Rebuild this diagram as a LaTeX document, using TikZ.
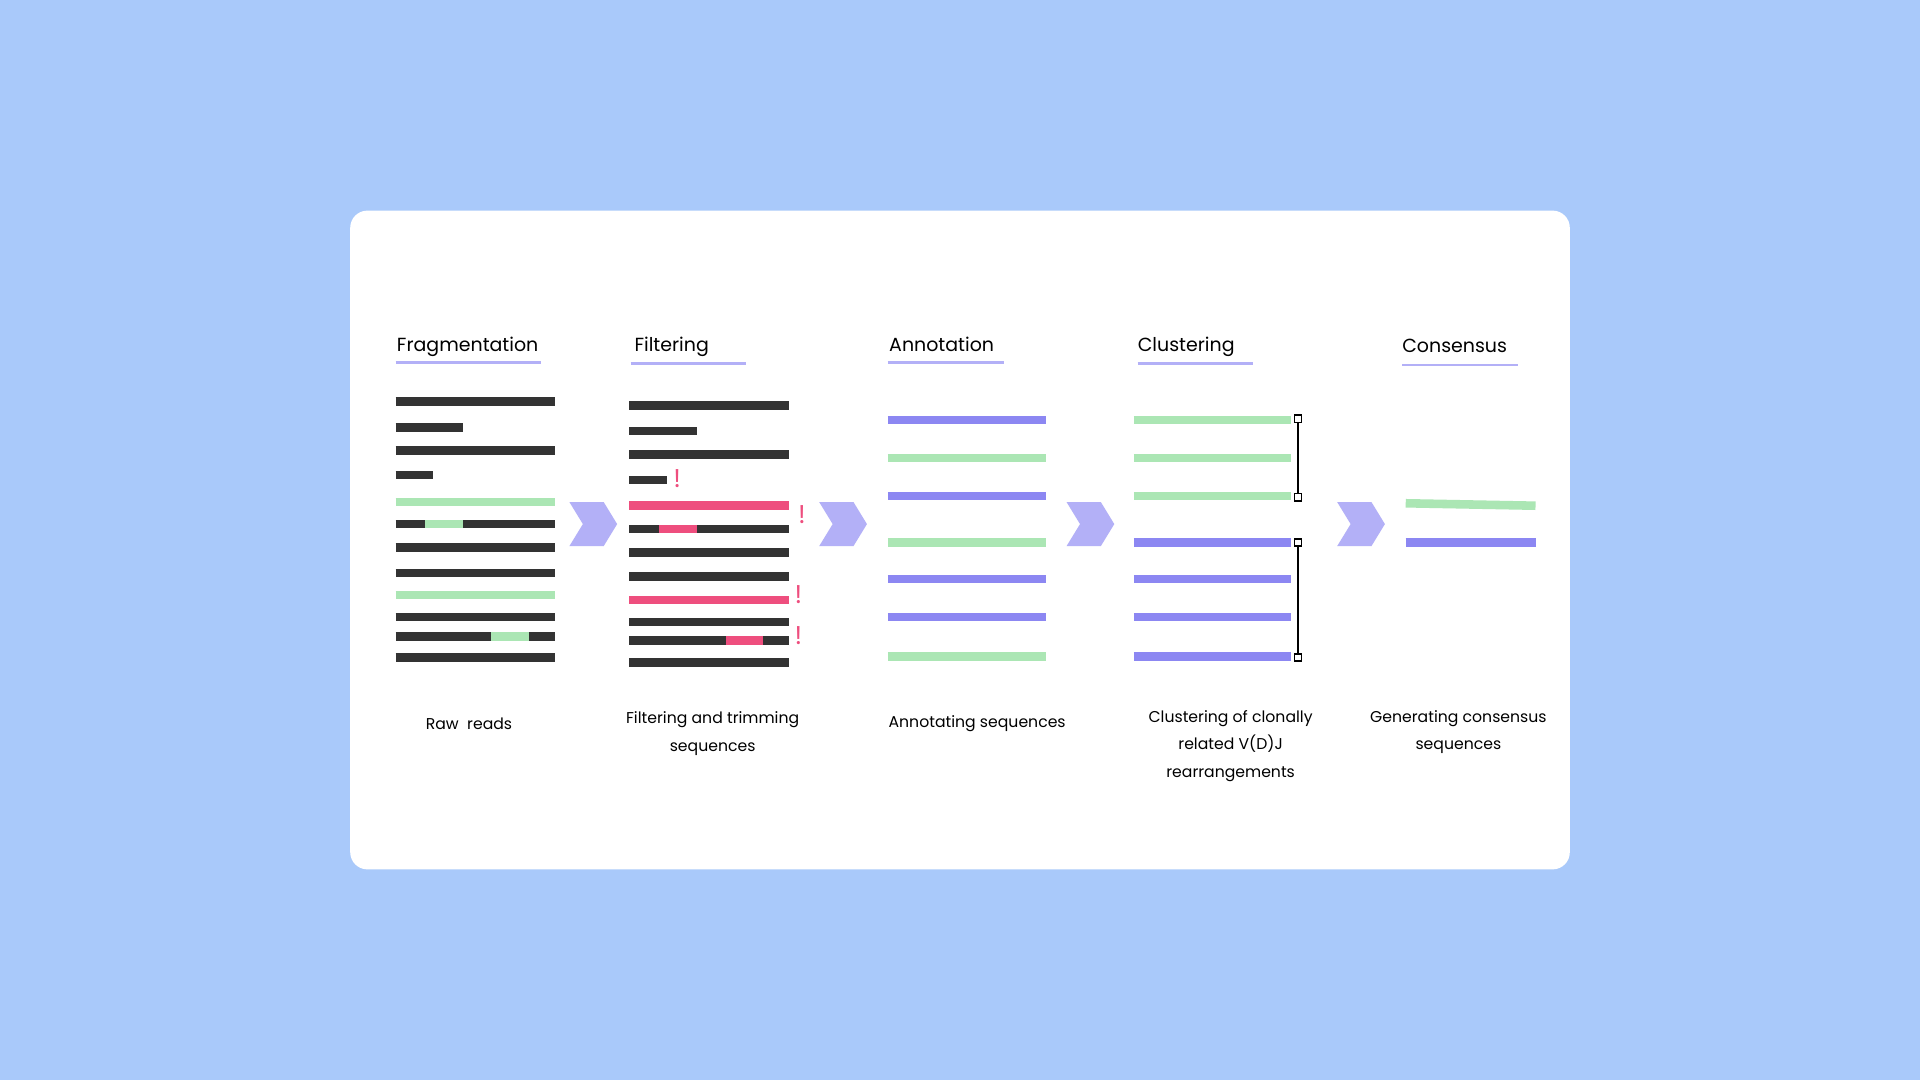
\documentclass[tikz,border=0pt]{standalone}
\usepackage{fontspec}
\setmainfont{Poppins}
\usetikzlibrary{calc}
\definecolor{bgblue}{HTML}{A9C9FA}
\definecolor{readdark}{HTML}{333333}
\definecolor{readgreen}{HTML}{ABE6B4}
\definecolor{readblue}{HTML}{8C87F2}
\definecolor{readpink}{HTML}{EE4E7E}
\definecolor{chev}{HTML}{B3B0F7}
\tikzset{
  bar/.style={line width=7pt},
  title/.style={anchor=base west,font=\fontsize{15.5}{18}\selectfont,inner sep=0pt},
  caption/.style={align=center,font=\fontsize{12.8}{22.5}\selectfont},
  uline/.style={chev,line width=2pt},
  bang/.style={text=readpink,font=\fontsize{21}{21}\selectfont,inner sep=0pt},
}
\newcommand{\chevron}[1]{\fill[chev] (#1-4,410) -- (#1+24,410) -- (#1+35,428) -- (#1+24,446) -- (#1-4,446) -- (#1+7,428) -- cycle;}
\begin{document}
\begin{tikzpicture}[x=1pt,y=-1pt]
  \fill[bgblue] (0,0) rectangle (1568,882);
  \fill[white,rounded corners=14pt] (286,172) rectangle (1282,710);
  % titles
  \node[title] (tfrag) at (324,287) {Fragmentation};
  \draw[uline] (323,296) -- (442,296);
  \node[title] (tfilt) at (518,287) {Filtering};
  \draw[uline] (515,297) -- (609,297);
  \node[title] (tanno) at (726,287) {Annotation};
  \draw[uline] (725,296) -- (820,296);
  \node[title] (tclus) at (929,287) {Clustering};
  \draw[uline] (929,297) -- (1023,297);
  \node[title] (tcons) at (1145,288) {Consensus};
  \draw[uline] (1145,298) -- (1240,298);
  % fragmentation
  \foreach \y/\e/\c in {328/453/readdark,349/378/readdark,368/453/readdark,388/354/readdark,
      410/453/readgreen,428/453/readdark,447/453/readdark,468/453/readdark,486/453/readgreen,
      504/453/readdark,520/453/readdark,537/453/readdark}
    \draw[bar,\c] (323,\y) -- (\e,\y);
  \draw[bar,readgreen] (347,428) -- (378,428);
  \draw[bar,readgreen] (401,520) -- (432,520);
  % filtering
  \foreach \y/\e/\c in {331/644/readdark,352/569/readdark,371/644/readdark,392/545/readdark,
      413/644/readpink,432/644/readdark,451/644/readdark,471/644/readdark,490/644/readpink,
      508/644/readdark,523/644/readdark,541/644/readdark}
    \draw[bar,\c] (514,\y) -- (\e,\y);
  \draw[bar,readpink] (538,432) -- (569,432);
  \draw[bar,readpink] (593,523) -- (623,523);
  \node[bang] (b1) at (553,391) {!};
  \node[bang] (b2) at (655,420) {!};
  \node[bang] (b3) at (652,486) {!};
  \node[bang] (b4) at (652,519) {!};
  % annotation
  \foreach \y/\c in {343/readblue,374/readgreen,405/readblue,443/readgreen,473/readblue,504/readblue,536/readgreen}
    \draw[bar,\c] (725,\y) -- (854,\y);
  % clustering
  \foreach \y/\c in {343/readgreen,374/readgreen,405/readgreen,443/readblue,473/readblue,504/readblue,536/readblue}
    \draw[bar,\c] (926,\y) -- (1054,\y);
  \coordinate (k1) at (1060,342);
  \coordinate (k2) at (1060,406);
  \coordinate (k3) at (1060,443);
  \coordinate (k4) at (1060,537);
  \draw[line width=1.3pt] (k1) -- (k2) (k3) -- (k4);
  \foreach \k in {k1,k2,k3,k4}
    \draw[line width=1.2pt,fill=white] ($(\k)+(-3,-3)$) rectangle ($(\k)+(3,3)$);
  % consensus
  \draw[bar,readgreen] (1148,411) -- (1254,413);
  \draw[bar,readblue] (1148,443) -- (1254,443);
  % chevrons
  \chevron{469}
  \chevron{673}
  \chevron{875}
  \chevron{1096}
  % captions
  \node[caption] (cfrag) at (383,591) {Raw~~reads};
  \node[caption] (cfilt) at (582,599) {Filtering and trimming\\sequences};
  \node[caption] (canno) at (798,591) {Annotating sequences};
  \node[caption] (cclus) at (1005,609) {Clustering of clonally\\related V(D)J\\rearrangements};
  \node[caption] (ccons) at (1191,598) {Generating consensus\\sequences};
\end{tikzpicture}
\end{document}
